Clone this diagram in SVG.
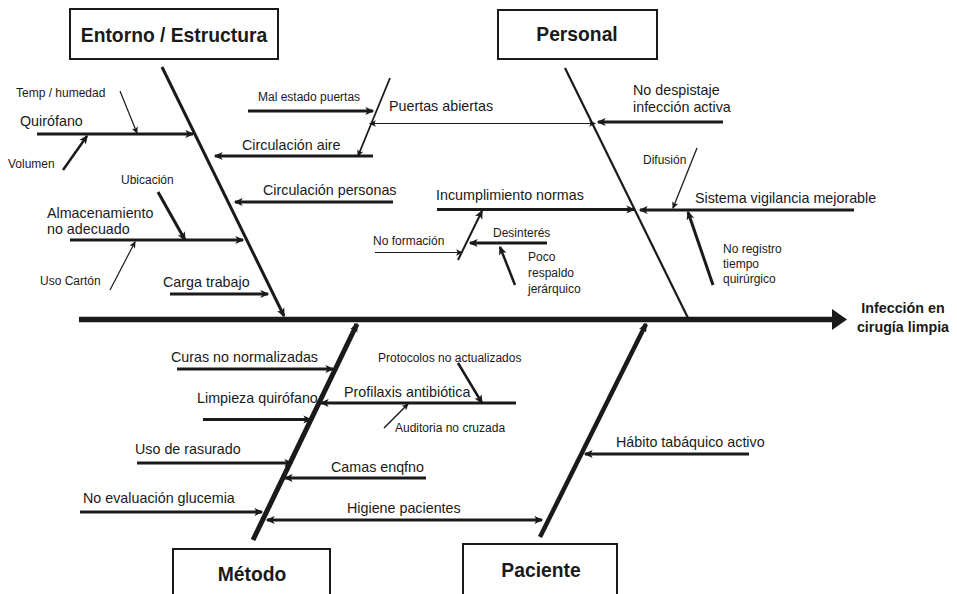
<svg xmlns="http://www.w3.org/2000/svg" width="957" height="594" viewBox="0 0 957 594">
<style>
text{font-family:"Liberation Sans",Arial,sans-serif;fill:#1a1a1a}
.l{font-size:14.3px}
.s{font-size:12px}
.t{font-size:19.3px;font-weight:bold;text-anchor:middle}
.e{font-size:14.3px;font-weight:bold;text-anchor:middle}
.box{fill:#fff;stroke:#1a1a1a;stroke-width:2}
line{stroke:#1a1a1a;fill:none}
.w3{stroke-width:3}
.w1{stroke-width:1.2}
.ab{marker-end:url(#big)}
.as{marker-end:url(#sm)}
</style>
<defs>
<marker id="big" viewBox="0 0 10 10" refX="8.5" refY="5" markerWidth="10" markerHeight="9" markerUnits="userSpaceOnUse" orient="auto-start-reverse">
<path d="M0,0.5 L10,5 L0,9.5 L2.5,5 z" fill="#1a1a1a"/>
</marker>
<marker id="sm" viewBox="0 0 10 10" refX="8.5" refY="5" markerWidth="8" markerHeight="7" markerUnits="userSpaceOnUse" orient="auto-start-reverse">
<path d="M0,0.5 L10,5 L0,9.5 L2.5,5 z" fill="#1a1a1a"/>
</marker>
</defs>
<rect width="957" height="594" fill="#fff"/>

<g id="connectors">
<line x1="79" y1="319.5" x2="834" y2="319.5" stroke-width="5.5"/>
<polygon points="832,309 847,319.5 832,330" fill="#1a1a1a"/>
<line class="ab" x1="162" y1="67" x2="284" y2="316" stroke-width="3"/>
<line x1="565" y1="68" x2="688" y2="318" stroke-width="2.2"/>
<line class="ab" x1="253" y1="540" x2="357" y2="324" stroke-width="5"/>
<line class="ab" x1="540" y1="537" x2="646" y2="324" stroke-width="4.5"/>

<line class="w3 ab" x1="37" y1="134" x2="193" y2="134"/>
<line class="w1 as" x1="120" y1="91" x2="137" y2="133"/>
<line class="ab" x1="63" y1="170" x2="87" y2="136" stroke-width="2.5"/>
<line class="w3 ab" x1="248" y1="111" x2="373" y2="111"/>
<line class="as" x1="390" y1="78" x2="358" y2="156" stroke-width="1.8"/>
<line class="as" x1="370" y1="123.5" x2="595" y2="123.5" stroke-width="1" marker-start="url(#sm)"/>
<line class="w3 ab" x1="373" y1="156" x2="215" y2="156"/>
<line class="w3 ab" x1="393" y1="202" x2="235" y2="202"/>
<line class="w3 ab" x1="158" y1="192" x2="185" y2="240"/>
<line class="w3 ab" x1="70" y1="240" x2="243" y2="240"/>
<line class="w1 as" x1="110" y1="290" x2="135" y2="242"/>
<line class="w3 ab" x1="170" y1="294" x2="268" y2="294"/>

<line class="w3 ab" x1="723" y1="122" x2="598" y2="122"/>
<line class="w3 ab" x1="437" y1="209.5" x2="634" y2="209.5"/>
<line class="w3 ab" x1="854" y1="210" x2="640" y2="210"/>
<line class="as" x1="697" y1="148" x2="673" y2="208" stroke-width="1.3"/>
<line class="w3 ab" x1="713" y1="285" x2="688" y2="212"/>
<line class="as" x1="375" y1="252.5" x2="462" y2="252.5" stroke-width="1"/>
<line class="ab" x1="458" y1="260" x2="482" y2="211" stroke-width="2"/>
<line class="w3 ab" x1="547" y1="243" x2="470" y2="243"/>
<line class="ab" x1="515" y1="285" x2="500" y2="247" stroke-width="2.5"/>

<line class="w3 ab" x1="177" y1="369" x2="333" y2="369"/>
<line class="w3 ab" x1="516" y1="403" x2="321" y2="403"/>
<line class="ab" x1="458" y1="363" x2="482" y2="403" stroke-width="2.5"/>
<line class="as" x1="384" y1="428" x2="408" y2="404" stroke-width="1.5"/>
<line class="w3 ab" x1="203" y1="419.5" x2="311" y2="419.5"/>
<line class="w3 ab" x1="137" y1="463" x2="292" y2="463"/>
<line class="w3 ab" x1="426" y1="478" x2="285" y2="478"/>
<line class="w3 ab" x1="80" y1="512" x2="262" y2="512"/>
<line class="w3 ab" x1="267" y1="520" x2="542" y2="520" marker-start="url(#big)"/>

<line class="w3 ab" x1="749" y1="454" x2="585" y2="454"/>
</g>

<g id="entorno">
<rect class="box" x="70" y="9" width="208" height="50"/>
<text class="t" x="174" y="42">Entorno / Estructura</text>
<text class="s" x="16" y="97">Temp / humedad</text>
<text class="l" x="20" y="126">Quirófano</text>
<text class="s" x="8" y="168">Volumen</text>
<text class="s" x="258" y="101">Mal estado puertas</text>
<text class="l" x="389" y="111">Puertas abiertas</text>
<text class="l" x="242" y="150">Circulación aire</text>
<text class="l" x="263" y="195">Circulación personas</text>
<text class="s" x="121" y="184">Ubicación</text>
<text class="l" x="47" y="218">Almacenamiento</text>
<text class="l" x="47" y="234">no adecuado</text>
<text class="s" x="40" y="285">Uso Cartón</text>
<text class="l" x="163" y="287">Carga trabajo</text>
</g>

<g id="personal">
<rect class="box" x="498" y="10" width="159" height="49"/>
<text class="t" x="577" y="41">Personal</text>
<text class="l" x="633" y="95">No despistaje</text>
<text class="l" x="633" y="112">infección activa</text>
<text class="l" x="436" y="200">Incumplimiento normas</text>
<text class="s" x="643" y="164">Difusión</text>
<text class="l" x="695" y="203">Sistema vigilancia mejorable</text>
<text class="s" x="723" y="253">No registro</text>
<text class="s" x="723" y="268">tiempo</text>
<text class="s" x="723" y="283">quirúrgico</text>
<text class="s" x="373" y="245">No formación</text>
<text class="s" x="493" y="237">Desinterés</text>
<text class="s" x="528" y="261">Poco</text>
<text class="s" x="528" y="277">respaldo</text>
<text class="s" x="528" y="293">jerárquico</text>
</g>

<g id="efecto">
<text class="e" x="903" y="313">Infección en</text>
<text class="e" x="903" y="332">cirugía limpia</text>
</g>

<g id="metodo">
<rect class="box" x="173" y="549" width="157" height="60"/>
<text class="t" x="252" y="581">Método</text>
<text class="l" x="171" y="362">Curas no normalizadas</text>
<text class="s" x="378" y="362">Protocolos no actualizados</text>
<text class="l" x="344" y="397">Profilaxis antibiótica</text>
<text class="l" x="197" y="403">Limpieza quirófano</text>
<text class="s" x="395" y="432">Auditoria no cruzada</text>
<text class="l" x="135" y="454">Uso de rasurado</text>
<text class="l" x="331" y="472">Camas enqfno</text>
<text class="l" x="83" y="503">No evaluación glucemia</text>
<text class="l" x="347" y="513">Higiene pacientes</text>
</g>

<g id="paciente">
<rect class="box" x="463" y="544" width="154" height="65"/>
<text class="t" x="541" y="577">Paciente</text>
<text class="l" x="616" y="447">Hábito tabáquico activo</text>
</g>
</svg>
